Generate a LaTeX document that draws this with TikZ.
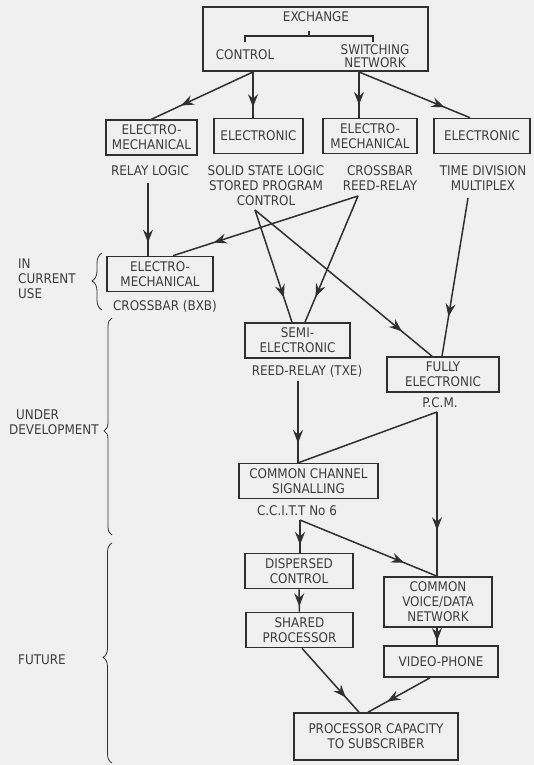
\documentclass[tikz,border=0pt]{standalone}
\usepackage{fontspec}
\setmainfont{DejaVu Sans Condensed}
\usetikzlibrary{positioning, arrows.meta, decorations.markings, decorations.pathreplacing}
\definecolor{ink}{HTML}{303030}
\definecolor{tx}{HTML}{3C3C3C}
\definecolor{paper}{HTML}{F0F0F0}

\begin{document}
\begin{tikzpicture}[
  x=1pt, y=-1pt,
  font=\fontsize{13.3}{15}\selectfont,
  mybox/.style={
     draw=ink,
     line width=1.6pt,
     fill=paper,
     text=tx,
     align=center,
     inner sep=2pt,
     minimum height=35pt},
  mylabel/.style={text=tx, align=center, inner sep=1pt},
  myline/.style={color=ink, line width=1.5pt},
  myarrow/.style={
     myline,
     postaction={decorate},
     decoration={markings, mark=at position #1 with
       {\arrow{Stealth[length=13pt, width=10pt, inset=4.5pt]}}}},
  myarrow/.default=0.77,
  mybrace/.style={color=ink, line width=0.8pt, decorate,
     decoration={brace, mirror, amplitude=#1}},
  mybrace/.default=9pt
  ]
  \fill[paper] (0,0) rectangle (534,765);

  % exchange
  \node[mybox, minimum width=225pt, minimum height=64pt] (ex) at (315.5,39) {};
  \node[mylabel] (exname) at (316,17) {EXCHANGE};
  \node[mylabel] (ctl) at (245,55) {CONTROL};
  \node[mylabel] (sw) at (375,56.5) {SWITCHING\\[-2pt]NETWORK};
  \draw[color=ink, line width=1.1pt] (245,42) -- (245,36) -- (373,36) -- (373,42)
        (309,36) -- (309,31);

  % kinds of control and switching
  \node[mybox, minimum width=91pt] (em1) at (151.5,137.5) {ELECTRO-\\MECHANICAL};
  \node[mybox, minimum width=89pt] (el1) at (258.5,136) {ELECTRONIC};
  \node[mybox, minimum width=94pt] (em2) at (370,136) {ELECTRO-\\MECHANICAL};
  \node[mybox, minimum width=96pt] (el2) at (482,136) {ELECTRONIC};

  \node[mylabel] (relay) at (150,171) {RELAY LOGIC};
  \node[mylabel] (ssl) at (266,186) {SOLID STATE LOGIC\\STORED PROGRAM\\CONTROL};
  \node[mylabel] (xbar) at (380,178.5) {CROSSBAR\\REED-RELAY};
  \node[mylabel] (tdm) at (483,178.5) {TIME DIVISION\\MULTIPLEX};

  % exchanges
  \node[mybox, minimum width=106pt] (xb) at (160,274) {ELECTRO-\\MECHANICAL};
  \node[mylabel] (bxb) at (165,306) {CROSSBAR (BXB)};
  \node[mybox, minimum width=105pt] (semi) at (297.5,340.5) {SEMI-\\ELECTRONIC};
  \node[mylabel] (txe) at (307,371) {REED-RELAY (TXE)};
  \node[mybox, minimum width=112pt] (full) at (443,374.5) {FULLY\\ELECTRONIC};
  \node[mylabel] (pcm) at (440,403) {P.C.M.};
  \node[mybox, minimum width=139pt] (ccs) at (308.5,481) {COMMON CHANNEL\\SIGNALLING};
  \node[mylabel] (ccitt) at (297,511) {C.C.I.T.T No 6};

  % future
  \node[mybox, minimum width=108pt] (disp) at (299,571) {DISPERSED\\CONTROL};
  \node[mybox, minimum width=107pt] (shared) at (299.5,630) {SHARED\\PROCESSOR};
  \node[mybox, minimum width=108pt, minimum height=50pt] (cvd) at (438,602) {COMMON\\VOICE/DATA\\NETWORK};
  \node[mybox, minimum width=114pt, minimum height=31pt] (video) at (441,661.5) {VIDEO-PHONE};
  \node[mybox, minimum width=164pt, minimum height=47pt] (proc) at (376,736.5) {PROCESSOR CAPACITY\\TO SUBSCRIBER};

  % stages
  \node[mylabel, align=left, anchor=west] (cur) at (17,279) {IN\\CURRENT\\USE};
  \node[mylabel, align=left, anchor=west] (dev) at (8,422) {\hspace*{7pt}UNDER\\DEVELOPMENT};
  \node[mylabel] (fut) at (42,660) {FUTURE};
  \draw[mybrace=10pt, decoration={aspect=0.49}] (102,253) -- (102,310);
  \draw[mybrace=8pt, decoration={aspect=0.52}] (112,318) -- (112,535);
  \draw[mybrace=9pt, decoration={aspect=0.52}] (112,543) -- (112,763);

  % junctions
  \coordinate (ctlj) at (253,72);
  \coordinate (swj) at (359,72);
  \coordinate (relayj) at (148,183);
  \coordinate (xbarj) at (358,196);
  \coordinate (sslj) at (255,210);
  \coordinate (tdmj) at (468,198);
  \coordinate (txej) at (298,381);
  \coordinate (pcmj) at (437,412);
  \coordinate (ccittj) at (300,520);

  % edges
  \draw[myarrow=0.71] (ctlj) -- (em1.north);
  \draw[myarrow] (ctlj) -- (ctlj |- el1.north);
  \draw[myarrow=0.72] (swj) -- (swj |- em2.north);
  \draw[myarrow] (swj) -- ([xshift=-12pt]el2.north);

  \draw[myarrow=0.82] (relayj) -- (relayj |- xb.north);
  \draw[myarrow=0.78] (xbarj) -- ([xshift=13pt]xb.north);
  \draw[myarrow=0.8] (xbarj) -- ([xshift=7.5pt]semi.north);
  \draw[myarrow=0.78] (sslj) -- ([xshift=-5.5pt]semi.north);
  \draw[myarrow=0.83] (sslj) -- ([xshift=-11pt]full.north);
  \draw[myarrow=0.75] (tdmj) -- ([xshift=-1pt]full.north);

  \draw[myarrow=0.76] (txej) -- (txej |- ccs.north);
  \draw[myline] (pcmj) -- ([xshift=-10pt]ccs.north);
  \draw[myarrow=0.72] (pcmj) -- (pcmj |- cvd.north);
  \draw[myarrow=0.76] (ccittj) -- (ccittj |- disp.north);
  \draw[myarrow=0.76] (ccittj) -- (pcmj |- cvd.north);

  \draw[myarrow=0.76] (disp) -- (shared);
  \draw[myarrow=0.76] (cvd.south -| pcmj) -- (pcmj |- video.north);
  \draw[myarrow=0.77] ([xshift=2.5pt]shared.south) -- ([xshift=-17pt]proc.north);
  \draw[myarrow=0.69] ([xshift=-11pt]video.south) -- ([xshift=-8pt]proc.north);
\end{tikzpicture}
\end{document}
